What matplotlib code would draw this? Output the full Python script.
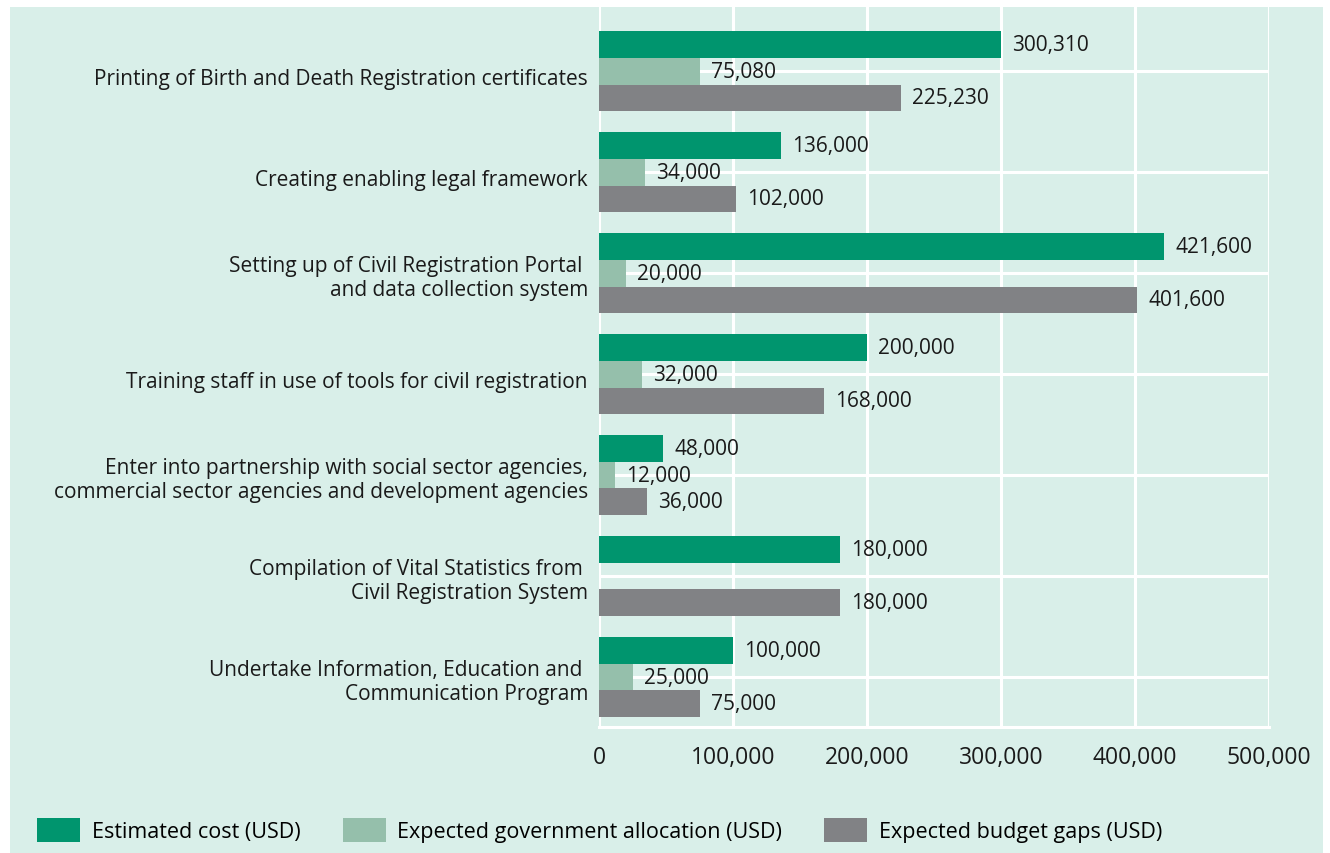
import numpy as np
import matplotlib
matplotlib.use("Agg")
import matplotlib.pyplot as plt
from matplotlib.patches import Patch, Rectangle
from matplotlib.transforms import ScaledTranslation

# data
activities = [
    "Printing of Birth and Death Registration certificates",
    "Creating enabling legal framework",
    "Setting up of Civil Registration Portal \nand data collection system",
    "Training staff in use of tools for civil registration",
    "Enter into partnership with social sector agencies,\ncommercial sector agencies and development agencies",
    "Compilation of Vital Statistics from \nCivil Registration System",
    "Undertake Information, Education and \nCommunication Program",
]
estimated_cost = [300310, 136000, 421600, 200000, 48000, 180000, 100000]
gov_allocation = [75080, 34000, 20000, 32000, 12000, None, 25000]
budget_gap = [225230, 102000, 401600, 168000, 36000, 180000, 75000]
series_names = ["Estimated cost (USD)", "Expected government allocation (USD)",
                "Expected budget gaps (USD)"]
x_ticks = [0, 100000, 200000, 300000, 400000, 500000]

colors = ["#00956e", "#95bfab", "#818285"]
bg = "#d9efe9"

plt.rcParams['font.family'] = ['Open Sans', 'DejaVu Sans']

fig = plt.figure(figsize=(13.3, 8.54), dpi=100)
fig.patch.set_facecolor("white")
# mint panel behind everything
fig.patches.append(Rectangle((10 / 1330, 0), 1313 / 1330, 1 - 8 / 854,
                             transform=fig.transFigure, facecolor=bg,
                             edgecolor="none", zorder=-10))

ax = fig.add_axes([599 / 1330, 1 - 728 / 854, 670 / 1330, 720 / 854])
ax.set_facecolor(bg)

y = np.arange(len(activities))
h = 0.267
all_series = [estimated_cost, gov_allocation, budget_gap]
for k, (vals, col) in enumerate(zip(all_series, colors)):
    offset = (k - 1) * h
    for i, v in enumerate(vals):
        if v is None:
            continue
        ax.barh(y[i] + offset, v, height=h, color=col, zorder=3)
        ax.annotate("{:,}".format(v), xy=(v, y[i] + offset), xytext=(8, 0),
                    textcoords="offset points", va="center", ha="left",
                    fontsize=15, color="#1a1a1a", zorder=4)

ax.set_xlim(0, 500000)
ax.set_ylim(6.495, -0.634)
ax.set_xticks(x_ticks)
ax.set_xticklabels(["{:,}".format(t) for t in x_ticks], fontsize=16.5)
ax.set_yticks(y)
ax.set_yticklabels(activities, linespacing=1.2, fontsize=15)
ax.tick_params(axis="both", length=0, colors="#1a1a1a")
ax.tick_params(axis="x", pad=13)
ax.tick_params(axis="y", pad=8)
# single line labels sit a little lower in the original
for lab in ax.get_yticklabels():
    if "\n" not in lab.get_text():
        lab.set_transform(lab.get_transform() +
                          ScaledTranslation(0, -0.045, fig.dpi_scale_trans))
ax.grid(True, color="white", linewidth=2.2, zorder=0)
ax.set_axisbelow(True)
for s in ["top", "right", "left"]:
    ax.spines[s].set_visible(False)
ax.spines["bottom"].set_color("white")
ax.spines["bottom"].set_linewidth(2.2)

handles = [Patch(facecolor=c, edgecolor="none") for c in colors]
fig.legend(handles, series_names, loc="lower left",
           bbox_to_anchor=(37 / 1330, 11 / 854), ncol=3, frameon=False,
           fontsize=15.5, handlelength=2.0, handleheight=1.3,
           handletextpad=0.55, columnspacing=1.95, borderpad=0,
           borderaxespad=0)

fig.savefig("out.png", dpi=100, facecolor=fig.get_facecolor())
